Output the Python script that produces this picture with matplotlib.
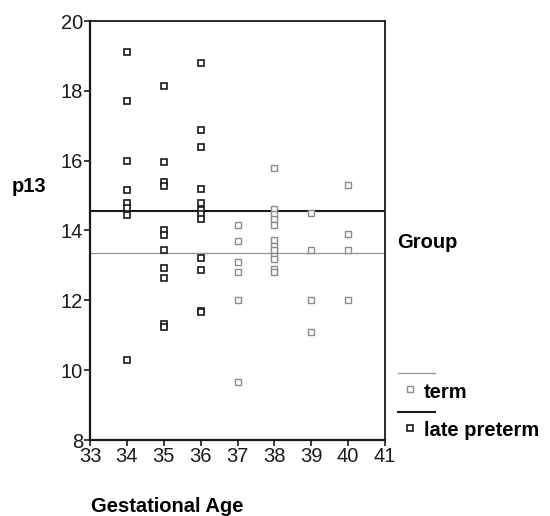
import numpy as np
import matplotlib
matplotlib.use("Agg")
import matplotlib.pyplot as plt
from matplotlib.lines import Line2D

plt.rcParams['font.family'] = ['Liberation Sans', 'DejaVu Sans']

# Data
preterm_age = [34]*8 + [35]*11 + [36]*12
preterm_p13 = [19.1, 17.7, 16.0, 15.15, 14.8, 14.65, 14.45, 10.3,
               18.13, 15.95, 15.39, 15.27, 14.0, 13.87, 13.45, 12.93, 12.63, 11.33, 11.25,
               18.81, 16.89, 16.40, 15.2, 14.79, 14.58, 14.48, 14.34, 13.22, 12.86, 11.7, 11.68]
term_age = [37]*6 + [38]*12 + [39]*4 + [40]*4
term_p13 = [14.17, 13.71, 13.1, 12.8, 12.0, 9.66,
            15.79, 14.63, 14.48, 14.34, 14.15, 13.72, 13.57, 13.43, 13.28, 13.19, 12.9, 12.81,
            14.49, 13.44, 12.0, 11.08,
            15.3, 13.9, 13.43, 12.0]
x_ticks = [33, 34, 35, 36, 37, 38, 39, 40, 41]
y_ticks = [8, 10, 12, 14, 16, 18, 20]

BLACK = '#1a1a1a'
GRAY = '#8c8c8c'
FS = 14.5

fig = plt.figure(figsize=(5.5, 5.16), dpi=100)
ax = fig.add_axes([90/550, 1-440/516, (385-90)/550, (440-21)/516])

ax.axhline(np.mean(preterm_p13), color=BLACK, lw=1.5, zorder=2)
ax.axhline(np.mean(term_p13), color='#999999', lw=1.0, zorder=2)

ax.plot(term_age, term_p13, ls='none', marker='s', ms=5, mfc='white',
        mec=GRAY, mew=1.0, zorder=3)
ax.plot(preterm_age, preterm_p13, ls='none', marker='s', ms=5, mfc='white',
        mec=BLACK, mew=1.2, zorder=4)

ax.set_xlim(33, 41)
ax.set_ylim(8, 20)
ax.set_xticks(x_ticks)
ax.set_yticks(y_ticks)
ax.tick_params(direction='out', length=4, width=1.2, labelsize=FS, pad=1, colors=BLACK)
for s in ['left', 'bottom']:
    ax.spines[s].set_linewidth(1.6)
for s in ['top', 'right']:
    ax.spines[s].set_linewidth(1.3)
for s in ax.spines.values():
    s.set_color(BLACK)

fig.text(12/550, 1-187/516, 'p13', fontsize=FS, fontweight='bold', va='center', ha='left')
fig.text(91/550, 1-507/516, 'Gestational Age', fontsize=FS, fontweight='bold', va='center', ha='left')
fig.text(397/550, 1-243/516, 'Group', fontsize=FS, fontweight='bold', va='center', ha='left')

# legend
fig.add_artist(Line2D([398/550, 435/550], [1-373/516]*2, color='#999999', lw=1.0))
fig.add_artist(Line2D([410/550], [1-389/516], ls='none', marker='s', ms=5, mfc='white', mec=GRAY, mew=1.0))
fig.text(424/550, 1-392/516, 'term', fontsize=FS, fontweight='bold', va='center', ha='left')
fig.add_artist(Line2D([398/550, 435/550], [1-412/516]*2, color=BLACK, lw=1.5))
fig.add_artist(Line2D([410/550], [1-428/516], ls='none', marker='s', ms=5, mfc='white', mec=BLACK, mew=1.2))
fig.text(424/550, 1-431/516, 'late preterm', fontsize=FS, fontweight='bold', va='center', ha='left')

fig.savefig('out.png', dpi=100)
